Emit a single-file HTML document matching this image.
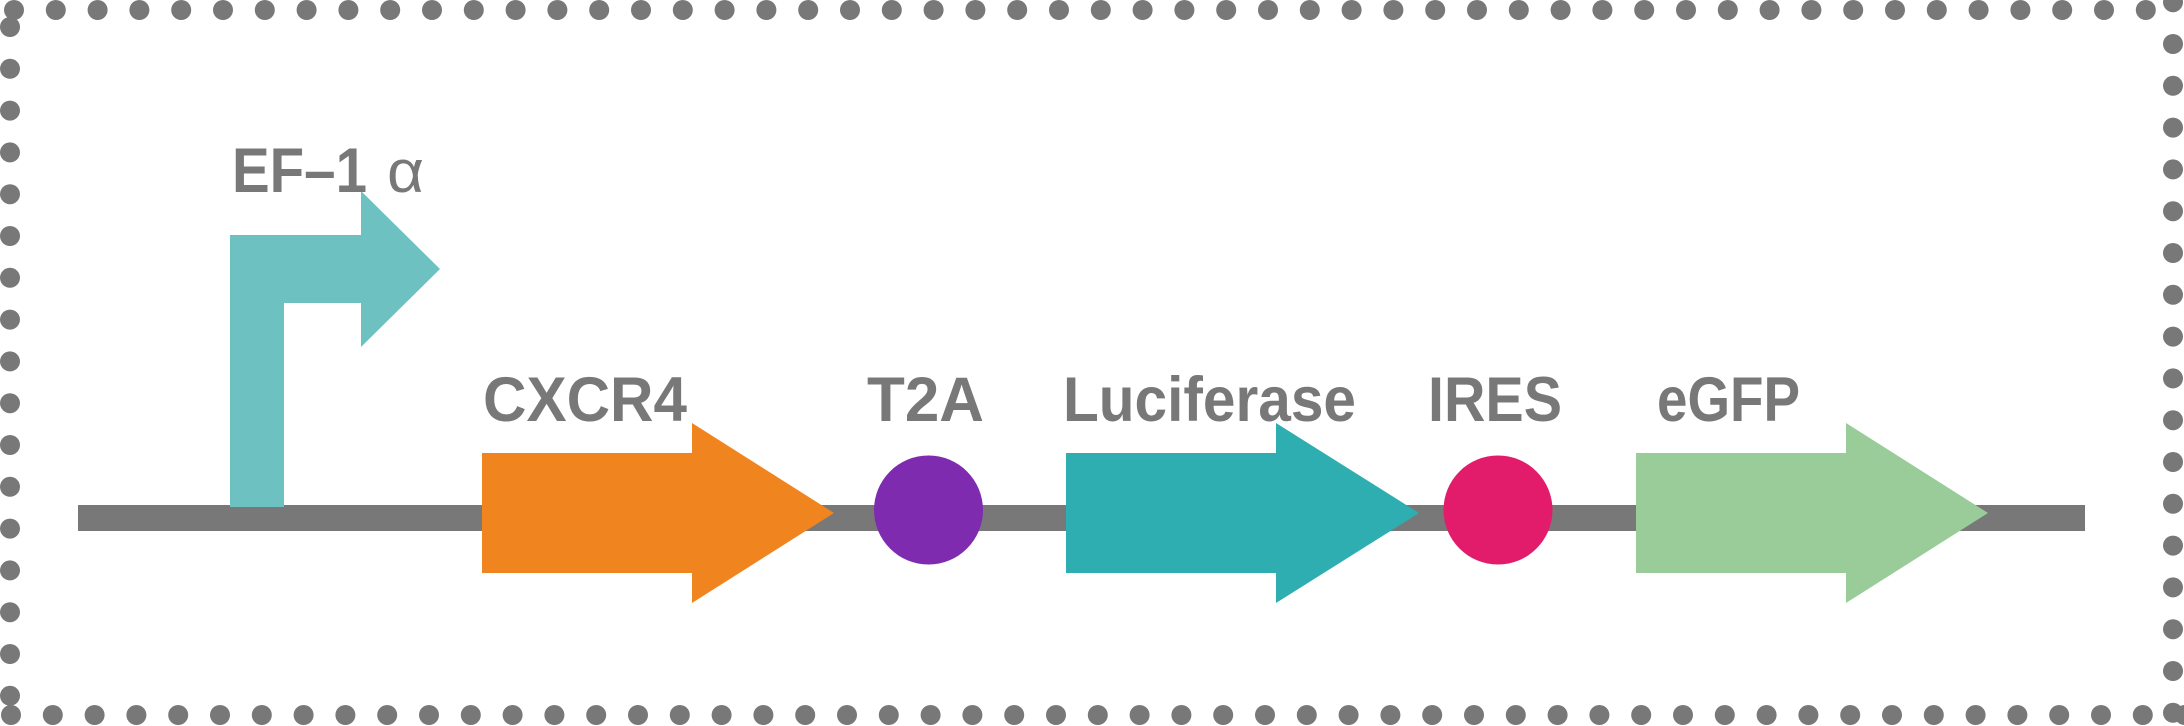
<!DOCTYPE html>
<html>
<head>
<meta charset="utf-8">
<style>
  html, body { margin: 0; padding: 0; background: #ffffff; }
  body { width: 2184px; height: 726px; overflow: hidden; }
  svg { display: block; }
  text { font-family: "Liberation Sans", Arial, sans-serif; fill: #787878; }
</style>
</head>
<body>
<svg width="2184" height="726" viewBox="0 0 2184 726" xmlns="http://www.w3.org/2000/svg">
  <rect x="0" y="0" width="2184" height="726" fill="#ffffff"/>

  <!-- dotted border -->
  <g stroke="#787878" stroke-width="20" stroke-linecap="round" stroke-dasharray="0 41.8" fill="none">
    <line x1="14" y1="10" x2="2146" y2="10"/>
    <line x1="10" y1="27" x2="10" y2="697"/>
    <line x1="2173" y1="2.2" x2="2173" y2="714"/>
    <line x1="11" y1="715" x2="2186" y2="715"/>
  </g>

  <!-- backbone -->
  <rect x="78" y="505" width="2007" height="26" fill="#787878"/>

  <!-- promoter arrow -->
  <path d="M230,507 L230,235 L361,235 L361,191 L440,269 L361,347 L361,303 L284,303 L284,507 Z" fill="#6dc1c1"/>

  <!-- gene arrows -->
  <path d="M482,453 H692 V423 L834,513 L692,603 V573 H482 Z" fill="#f0841e"/>
  <path d="M1066,453 H1276 V423 L1419,513 L1276,603 V573 H1066 Z" fill="#2eaeb0"/>
  <path d="M1636,453 H1846 V423 L1988,513 L1846,603 V573 H1636 Z" fill="#99cc99"/>

  <!-- circles -->
  <circle cx="928.5" cy="510" r="54.5" fill="#7f2bb0"/>
  <circle cx="1498" cy="510" r="54.5" fill="#e31b6b"/>

  <!-- labels -->
  <text x="232" y="192" font-size="63" font-weight="bold" textLength="135" lengthAdjust="spacingAndGlyphs">EF–1</text>
  <text x="387" y="192" font-size="60" textLength="37" lengthAdjust="spacingAndGlyphs">α</text>

  <text x="483" y="421" font-size="63" font-weight="bold" textLength="204" lengthAdjust="spacingAndGlyphs">CXCR4</text>
  <text x="867" y="421" font-size="63" font-weight="bold" textLength="117" lengthAdjust="spacingAndGlyphs">T2A</text>
  <text x="1063" y="421" font-size="63" font-weight="bold" textLength="293" lengthAdjust="spacingAndGlyphs">Luciferase</text>
  <text x="1428" y="421" font-size="63" font-weight="bold" textLength="134" lengthAdjust="spacingAndGlyphs">IRES</text>
  <text x="1657" y="421" font-size="63" font-weight="bold" textLength="143" lengthAdjust="spacingAndGlyphs">eGFP</text>
</svg>
</body>
</html>
